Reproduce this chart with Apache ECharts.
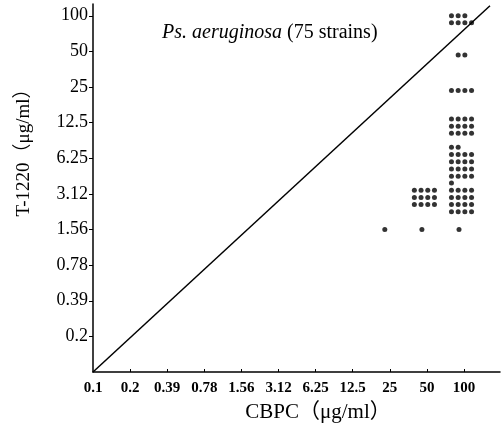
<!DOCTYPE html>
<html>
<head>
<meta charset="utf-8">
<script src="https://cdn.jsdelivr.net/npm/echarts@6/dist/echarts.min.js"></script>
<style>
  html, body { margin: 0; padding: 0; background: #fff; }
  #chart { width: 502px; height: 428px; }
</style>
</head>
<body>
<div id="chart"></div>
<script>
  // two-fold dilution steps, plotted at index 0..10
  var xLabels = ['0.1', '0.2', '0.39', '0.78', '1.56', '3.12', '6.25', '12.5', '25', '50', '100']
  var yLabels = ['', '0.2', '0.39', '0.78', '1.56', '3.12', '6.25', '12.5', '25', '50', '100']

  // strain clusters: MIC of CBPC (x step), MIC of T-1220 (y step), number of strains
  var groupX = [8, 9, 10, 9, 10, 10, 10, 10, 10, 10]
  var groupY = [4, 4, 4, 5, 5, 6, 7, 8, 9, 10]
  var groupN = [1, 1, 1, 12, 17, 18, 12, 4, 2, 7]

  // equal-MIC line
  var diagonal = [[0, 0], [10.7, 10.28]]

  // lay each cluster out as a small block of dots, 4 per row, partial row on top
  var dots = []
  groupN.forEach(function (n, g) {
    var cols = Math.min(n, 4)
    var rows = Math.ceil(n / 4)
    var extra = n - (rows - 1) * 4
    for (var i = 0; i < n; i++) {
      var r, c
      if (i < extra) { r = 0; c = i } else { r = 1 + Math.floor((i - extra) / 4); c = (i - extra) % 4 }
      var dx = (c - (cols - 1) / 2) * 6.7 - (n === 1 ? 5 : 2.5)
      var dy = (r - (rows - 1) / 2) * 7.2 + (n === 1 ? 0 : 3.5)
      dots.push({ value: [groupX[g], groupY[g]], symbolOffset: [dx, dy] })
    }
  })

  var xTicks = xLabels.map(function (v, i) { return i })
  var yTicks = yLabels.map(function (v, i) { return i }).slice(1)
  var serif = '"Liberation Serif", "Noto Sans CJK JP", serif'

  var chart = echarts.init(document.getElementById('chart'))
  chart.setOption({
    animation: false,
    title: {
      left: 157,
      top: 18,
      text: '{i|Ps. aeruginosa} (75 strains)',
      textStyle: {
        fontFamily: serif, fontSize: 20, fontWeight: 'normal', color: '#000',
        rich: { i: { fontFamily: serif, fontSize: 20, fontStyle: 'italic', color: '#000' } }
      }
    },
    grid: { left: 93, right: 2, top: 4, bottom: 53 },
    xAxis: {
      type: 'value',
      min: 0,
      max: 10.97,
      interval: 1,
      splitLine: { show: false },
      axisLine: { lineStyle: { color: '#000', width: 1.5 } },
      axisTick: { inside: true, length: 3, customValues: xTicks.slice(1), lineStyle: { color: '#000' } },
      axisLabel: {
        customValues: xTicks,
        formatter: function (v) { return xLabels[Math.round(v)] },
        fontFamily: serif, fontSize: 15, fontWeight: 'bold', color: '#000', margin: 9
      },
      name: 'CBPC（μg/ml）',
      nameLocation: 'middle',
      nameGap: 30,
      nameTextStyle: { fontFamily: serif, fontSize: 21, color: '#000', padding: [0, 0, 0, 43] }
    },
    yAxis: {
      type: 'value',
      min: 0,
      max: 10.33,
      interval: 1,
      splitLine: { show: false },
      axisLine: { lineStyle: { color: '#000', width: 1.5 } },
      axisTick: { length: 4, customValues: yTicks, lineStyle: { color: '#000' } },
      axisLabel: {
        customValues: yTicks,
        formatter: function (v) { return yLabels[Math.round(v)] },
        fontFamily: serif, fontSize: 18, color: '#000', margin: 5
      },
      name: 'T-1220（μg/ml）',
      nameLocation: 'middle',
      nameGap: 59,
      nameTextStyle: { fontFamily: serif, fontSize: 19, color: '#000', padding: [0, 0, 0, 80] }
    },
    series: [
      {
        type: 'line',
        data: diagonal,
        symbol: 'none',
        silent: true,
        lineStyle: { color: '#000', width: 1.5 }
      },
      {
        type: 'scatter',
        data: dots,
        symbolSize: 5,
        itemStyle: { color: '#000' }
      }
    ]
  })
</script>
</body>
</html>
